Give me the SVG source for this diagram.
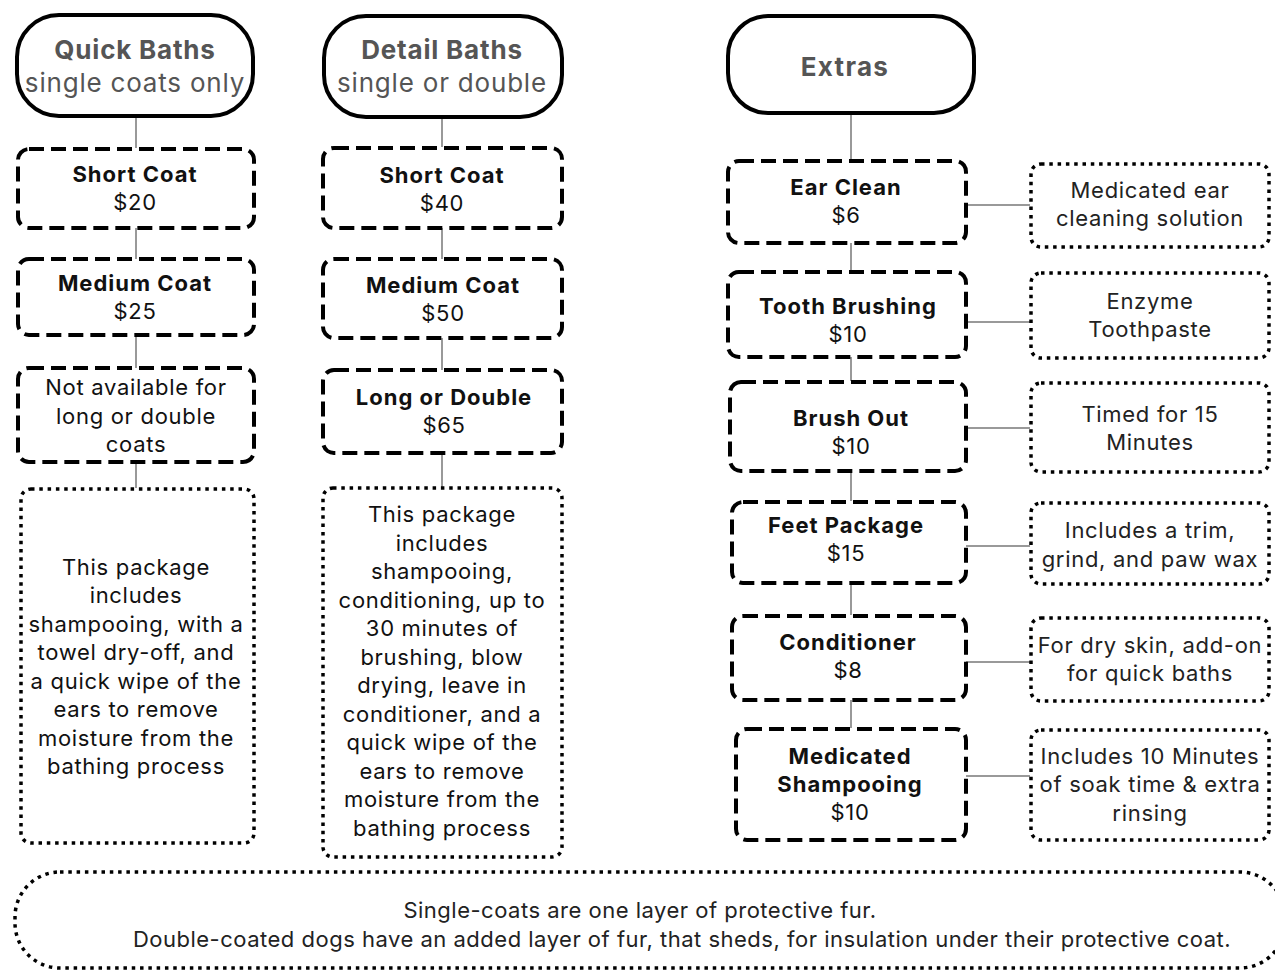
<svg xmlns="http://www.w3.org/2000/svg" width="1275" height="973" viewBox="0 0 1275 973">
<style>
.hdr{fill:#fff;stroke:#000;stroke-width:4}
.dash{fill:#fff;stroke:#000;stroke-width:4;stroke-dasharray:15 7}
.dot{fill:#fff;stroke:#000;stroke-width:3.5;stroke-dasharray:3.5 4.8}
.conn line{stroke:#777;stroke-width:1.5}
text{font-family:Inter,"Liberation Sans",sans-serif;text-anchor:middle;font-size:22px;fill:#111;letter-spacing:0.7px}
.ht{font-size:26px;fill:#555;font-weight:bold;letter-spacing:0.8px}
.hx{letter-spacing:1.3px}
.hs{font-size:26px;fill:#555;letter-spacing:0.8px}
.b{font-weight:bold;letter-spacing:1px}
.d{fill:#222}
.f{letter-spacing:0.5px}
</style>
<g class="conn">
<line x1="136" y1="116" x2="136" y2="148"/>
<line x1="136" y1="228" x2="136" y2="259"/>
<line x1="136" y1="335" x2="136" y2="368"/>
<line x1="136" y1="462" x2="136" y2="488"/>
<line x1="442" y1="117" x2="442" y2="147"/>
<line x1="442" y1="228" x2="442" y2="259"/>
<line x1="442" y1="338" x2="442" y2="370"/>
<line x1="442" y1="453" x2="442" y2="487"/>
<line x1="851" y1="113" x2="851" y2="160"/>
<line x1="851" y1="243" x2="851" y2="271"/>
<line x1="851" y1="357" x2="851" y2="381"/>
<line x1="851" y1="471" x2="851" y2="501"/>
<line x1="851" y1="583" x2="851" y2="615"/>
<line x1="851" y1="700" x2="851" y2="728"/>
<line x1="966" y1="205" x2="1030" y2="205"/>
<line x1="966" y1="322" x2="1030" y2="322"/>
<line x1="966" y1="428" x2="1030" y2="428"/>
<line x1="966" y1="546" x2="1030" y2="546"/>
<line x1="966" y1="662" x2="1030" y2="662"/>
<line x1="966" y1="776" x2="1030" y2="776"/>
</g>
<g id="quick-baths">
<rect class="hdr" x="17" y="15" width="236" height="101" rx="42"/>
<text class="ht" x="135" y="59">Quick Baths</text>
<text class="hs" x="135" y="92">single coats only</text>
</g>
<g id="quick-short">
<rect class="dash" x="18" y="149" width="236" height="79" rx="11"/>
<text class="b" x="135" y="182">Short Coat</text>
<text x="135" y="210">$20</text>
</g>
<g id="quick-medium">
<rect class="dash" x="18" y="259" width="236" height="76" rx="11"/>
<text class="b" x="135" y="291">Medium Coat</text>
<text x="135" y="319">$25</text>
</g>
<g id="quick-na">
<rect class="dash" x="18" y="368" width="236" height="94" rx="11"/>
<text x="136" y="395">Not available for</text>
<text x="136" y="424">long or double</text>
<text x="136" y="452">coats</text>
</g>
<g id="quick-desc">
<rect class="dot" x="21" y="489" width="233" height="354" rx="10"/>
<text x="136" y="575">This package</text>
<text x="136" y="603">includes</text>
<text x="136" y="632">shampooing, with a</text>
<text x="136" y="660">towel dry-off, and</text>
<text x="136" y="689">a quick wipe of the</text>
<text x="136" y="717">ears to remove</text>
<text x="136" y="746">moisture from the</text>
<text x="136" y="774">bathing process</text>
</g>
<g id="detail-baths">
<rect class="hdr" x="324" y="16" width="238" height="101" rx="42"/>
<text class="ht" x="442" y="59">Detail Baths</text>
<text class="hs" x="442" y="92">single or double</text>
</g>
<g id="detail-short">
<rect class="dash" x="323" y="148" width="239" height="80" rx="11"/>
<text class="b" x="442" y="183">Short Coat</text>
<text x="442" y="211">$40</text>
</g>
<g id="detail-medium">
<rect class="dash" x="323" y="259" width="239" height="79" rx="11"/>
<text class="b" x="443" y="293">Medium Coat</text>
<text x="443" y="321">$50</text>
</g>
<g id="detail-long">
<rect class="dash" x="323" y="370" width="239" height="83" rx="11"/>
<text class="b" x="444" y="405">Long or Double</text>
<text x="444" y="433">$65</text>
</g>
<g id="detail-desc">
<rect class="dot" x="323" y="488" width="239" height="369" rx="10"/>
<text x="442" y="522">This package</text>
<text x="442" y="551">includes</text>
<text x="442" y="579">shampooing,</text>
<text x="442" y="608">conditioning, up to</text>
<text x="442" y="636">30 minutes of</text>
<text x="442" y="665">brushing, blow</text>
<text x="442" y="693">drying, leave in</text>
<text x="442" y="722">conditioner, and a</text>
<text x="442" y="750">quick wipe of the</text>
<text x="442" y="779">ears to remove</text>
<text x="442" y="807">moisture from the</text>
<text x="442" y="836">bathing process</text>
</g>
<g id="extras">
<rect class="hdr" x="728" y="16" width="246" height="97" rx="40"/>
<text class="ht hx" x="845" y="76">Extras</text>
</g>
<g id="ear-clean">
<rect class="dash" x="728" y="161" width="238" height="82" rx="11"/>
<text class="b" x="846" y="195">Ear Clean</text>
<text x="846" y="223">$6</text>
</g>
<g id="ear-desc">
<rect class="dot" x="1031" y="164" width="238" height="83" rx="10"/>
<text class="d" x="1150" y="198">Medicated ear</text>
<text class="d" x="1150" y="226">cleaning solution</text>
</g>
<g id="tooth">
<rect class="dash" x="728" y="272" width="238" height="85" rx="11"/>
<text class="b" x="848" y="314">Tooth Brushing</text>
<text x="848" y="342">$10</text>
</g>
<g id="tooth-desc">
<rect class="dot" x="1031" y="273" width="238" height="85" rx="10"/>
<text class="d" x="1150" y="309">Enzyme</text>
<text class="d" x="1150" y="337">Toothpaste</text>
</g>
<g id="brush-out">
<rect class="dash" x="730" y="382" width="236" height="89" rx="11"/>
<text class="b" x="851" y="426">Brush Out</text>
<text x="851" y="454">$10</text>
</g>
<g id="brush-desc">
<rect class="dot" x="1031" y="383" width="238" height="89" rx="10"/>
<text class="d" x="1150" y="422">Timed for 15</text>
<text class="d" x="1150" y="450">Minutes</text>
</g>
<g id="feet">
<rect class="dash" x="732" y="502" width="234" height="81" rx="11"/>
<text class="b" x="846" y="533">Feet Package</text>
<text x="846" y="561">$15</text>
</g>
<g id="feet-desc">
<rect class="dot" x="1031" y="503" width="238" height="81" rx="10"/>
<text class="d" x="1150" y="538">Includes a trim,</text>
<text class="d" x="1150" y="567">grind, and paw wax</text>
</g>
<g id="conditioner">
<rect class="dash" x="732" y="616" width="234" height="84" rx="11"/>
<text class="b" x="848" y="650">Conditioner</text>
<text x="848" y="678">$8</text>
</g>
<g id="cond-desc">
<rect class="dot" x="1031" y="618" width="238" height="83" rx="10"/>
<text class="d" x="1150" y="653">For dry skin, add-on</text>
<text class="d" x="1150" y="681">for quick baths</text>
</g>
<g id="medicated">
<rect class="dash" x="736" y="729" width="230" height="111" rx="11"/>
<text class="b" x="850" y="764">Medicated</text>
<text class="b" x="850" y="792">Shampooing</text>
<text x="850" y="820">$10</text>
</g>
<g id="med-desc">
<rect class="dot" x="1031" y="730" width="238" height="110" rx="10"/>
<text class="d" x="1150" y="764">Includes 10 Minutes</text>
<text class="d" x="1150" y="792">of soak time &amp; extra</text>
<text class="d" x="1150" y="821">rinsing</text>
</g>
<g id="footnote">
<rect class="dot" x="15" y="872" width="1270" height="96" rx="45"/>
<text class="d f" x="640" y="918">Single-coats are one layer of protective fur.</text>
<text class="d f" x="682" y="947">Double-coated dogs have an added layer of fur, that sheds, for insulation under their protective coat.</text>
</g>
</svg>
